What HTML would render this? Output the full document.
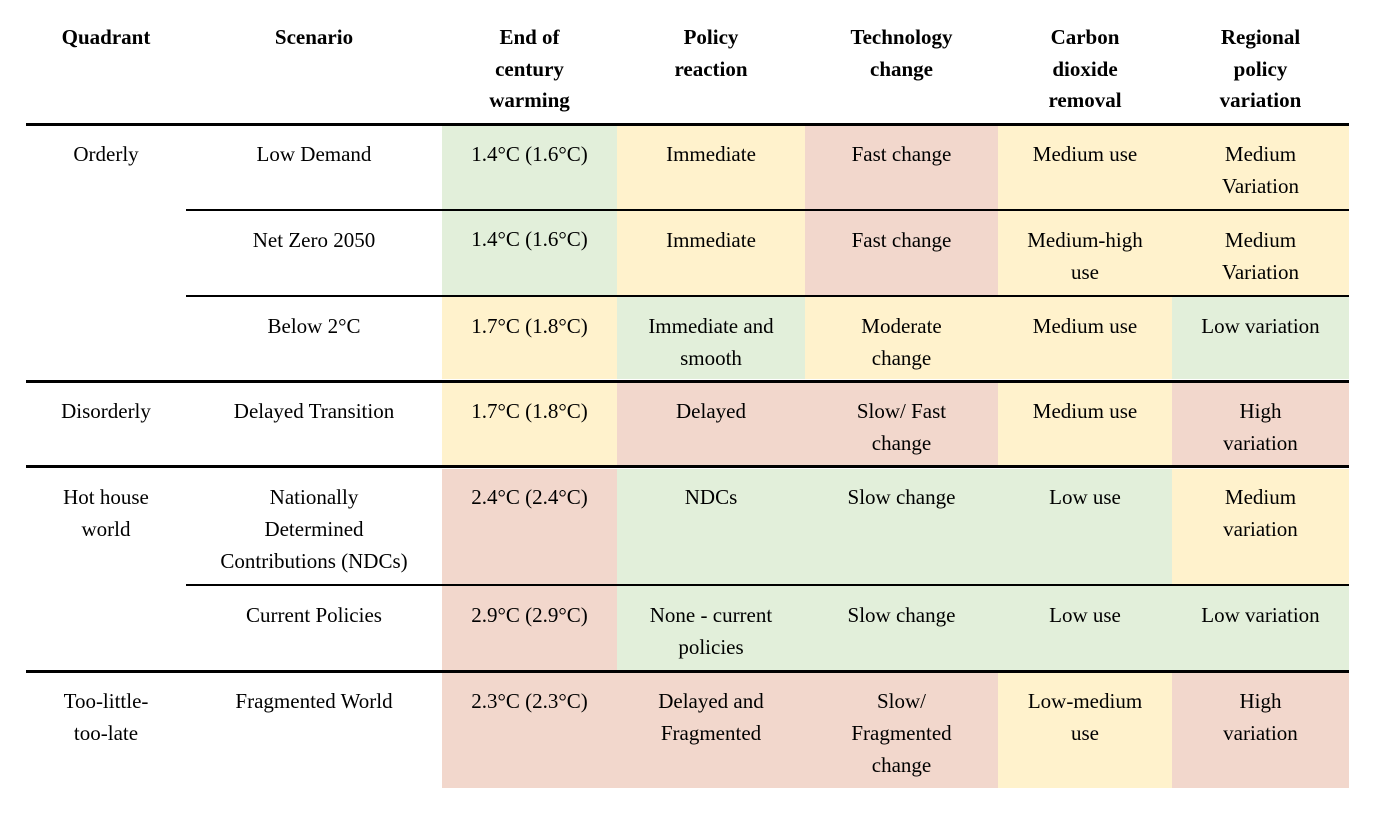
<!DOCTYPE html>
<html><head><meta charset="utf-8"><style>
body{margin:0;width:1374px;height:828px;background:#fff;position:relative;overflow:hidden;font-family:"Liberation Serif",serif;color:#000}
.c{position:absolute;box-sizing:border-box;text-align:center;font-size:21px;line-height:32px;padding-top:12px}
.h{position:absolute;text-align:center;font-weight:bold;font-size:21px;line-height:31.5px;top:22px}
.l{position:absolute;background:#000;height:3px}
.g{background:#e2efda}.y{background:#fff2cc}.r{background:#f2d7cc}
</style></head><body>
<div class="h" style="left:26px;width:160px">Quadrant</div>
<div class="h" style="left:186px;width:256px">Scenario</div>
<div class="h" style="left:442px;width:175px">End of<br>century<br>warming</div>
<div class="h" style="left:617px;width:188px">Policy<br>reaction</div>
<div class="h" style="left:805px;width:193px">Technology<br>change</div>
<div class="h" style="left:998px;width:174px">Carbon<br>dioxide<br>removal</div>
<div class="h" style="left:1172px;width:177px">Regional<br>policy<br>variation</div>

<!-- quadrants -->
<div class="c" style="left:26px;width:160px;top:126px">Orderly</div>
<div class="c" style="left:26px;width:160px;top:383px">Disorderly</div>
<div class="c" style="left:26px;width:160px;top:469px">Hot house<br>world</div>
<div class="c" style="left:26px;width:160px;top:673px">Too-little-<br>too-late</div>

<!-- row1 -->
<div class="c" style="left:186px;width:256px;top:126px">Low Demand</div>
<div class="c g" style="left:442px;width:175px;top:126px;height:83px">1.4°C (1.6°C)</div>
<div class="c y" style="left:617px;width:188px;top:126px;height:83px">Immediate</div>
<div class="c r" style="left:805px;width:193px;top:126px;height:83px">Fast change</div>
<div class="c y" style="left:998px;width:174px;top:126px;height:83px">Medium use</div>
<div class="c y" style="left:1172px;width:177px;top:126px;height:83px">Medium<br>Variation</div>
<!-- row2 -->
<div class="c" style="left:186px;width:256px;top:212px">Net Zero 2050</div>
<div class="c g" style="left:442px;width:175px;top:211px;height:84px">1.4°C (1.6°C)</div>
<div class="c y" style="left:617px;width:188px;top:211px;height:84px;padding-top:13px">Immediate</div>
<div class="c r" style="left:805px;width:193px;top:211px;height:84px;padding-top:13px">Fast change</div>
<div class="c y" style="left:998px;width:174px;top:211px;height:84px;padding-top:13px">Medium-high<br>use</div>
<div class="c y" style="left:1172px;width:177px;top:211px;height:84px;padding-top:13px">Medium<br>Variation</div>
<!-- row3 -->
<div class="c" style="left:186px;width:256px;top:298px">Below 2°C</div>
<div class="c y" style="left:442px;width:175px;top:297px;height:82px;padding-top:13px">1.7°C (1.8°C)</div>
<div class="c g" style="left:617px;width:188px;top:297px;height:82px;padding-top:13px">Immediate and<br>smooth</div>
<div class="c y" style="left:805px;width:193px;top:297px;height:82px;padding-top:13px">Moderate<br>change</div>
<div class="c y" style="left:998px;width:174px;top:297px;height:82px;padding-top:13px">Medium use</div>
<div class="c g" style="left:1172px;width:177px;top:297px;height:82px;padding-top:13px">Low variation</div>
<!-- row4 -->
<div class="c" style="left:186px;width:256px;top:383px">Delayed Transition</div>
<div class="c y" style="left:442px;width:175px;top:383px;height:82px">1.7°C (1.8°C)</div>
<div class="c r" style="left:617px;width:188px;top:383px;height:82px">Delayed</div>
<div class="c r" style="left:805px;width:193px;top:383px;height:82px">Slow/ Fast<br>change</div>
<div class="c y" style="left:998px;width:174px;top:383px;height:82px">Medium use</div>
<div class="c r" style="left:1172px;width:177px;top:383px;height:82px">High<br>variation</div>
<!-- row5 -->
<div class="c" style="left:186px;width:256px;top:469px">Nationally<br>Determined<br>Contributions (NDCs)</div>
<div class="c r" style="left:442px;width:175px;top:469px;height:115px">2.4°C (2.4°C)</div>
<div class="c g" style="left:617px;width:188px;top:469px;height:115px">NDCs</div>
<div class="c g" style="left:805px;width:193px;top:469px;height:115px">Slow change</div>
<div class="c g" style="left:998px;width:174px;top:469px;height:115px">Low use</div>
<div class="c y" style="left:1172px;width:177px;top:469px;height:115px">Medium<br>variation</div>
<!-- row6 -->
<div class="c" style="left:186px;width:256px;top:587px">Current Policies</div>
<div class="c r" style="left:442px;width:175px;top:586px;height:84px;padding-top:13px">2.9°C (2.9°C)</div>
<div class="c g" style="left:617px;width:188px;top:586px;height:84px;padding-top:13px">None - current<br>policies</div>
<div class="c g" style="left:805px;width:193px;top:586px;height:84px;padding-top:13px">Slow change</div>
<div class="c g" style="left:998px;width:174px;top:586px;height:84px;padding-top:13px">Low use</div>
<div class="c g" style="left:1172px;width:177px;top:586px;height:84px;padding-top:13px">Low variation</div>
<!-- row7 -->
<div class="c" style="left:186px;width:256px;top:673px">Fragmented World</div>
<div class="c r" style="left:442px;width:175px;top:672px;height:116px;padding-top:13px">2.3°C (2.3°C)</div>
<div class="c r" style="left:617px;width:188px;top:672px;height:116px;padding-top:13px">Delayed and<br>Fragmented</div>
<div class="c r" style="left:805px;width:193px;top:672px;height:116px;padding-top:13px">Slow/<br>Fragmented<br>change</div>
<div class="c y" style="left:998px;width:174px;top:672px;height:116px;padding-top:13px">Low-medium<br>use</div>
<div class="c r" style="left:1172px;width:177px;top:672px;height:116px;padding-top:13px">High<br>variation</div>

<!-- rules -->
<div class="l" style="left:26px;width:1323px;top:123px"></div>
<div class="l" style="left:186px;width:1163px;top:209px;height:2px"></div>
<div class="l" style="left:186px;width:1163px;top:295px;height:2px"></div>
<div class="l" style="left:26px;width:1323px;top:380px"></div>
<div class="l" style="left:26px;width:1323px;top:465px"></div>
<div class="l" style="left:186px;width:1163px;top:584px;height:2px"></div>
<div class="l" style="left:26px;width:1323px;top:670px"></div>
</body></html>
